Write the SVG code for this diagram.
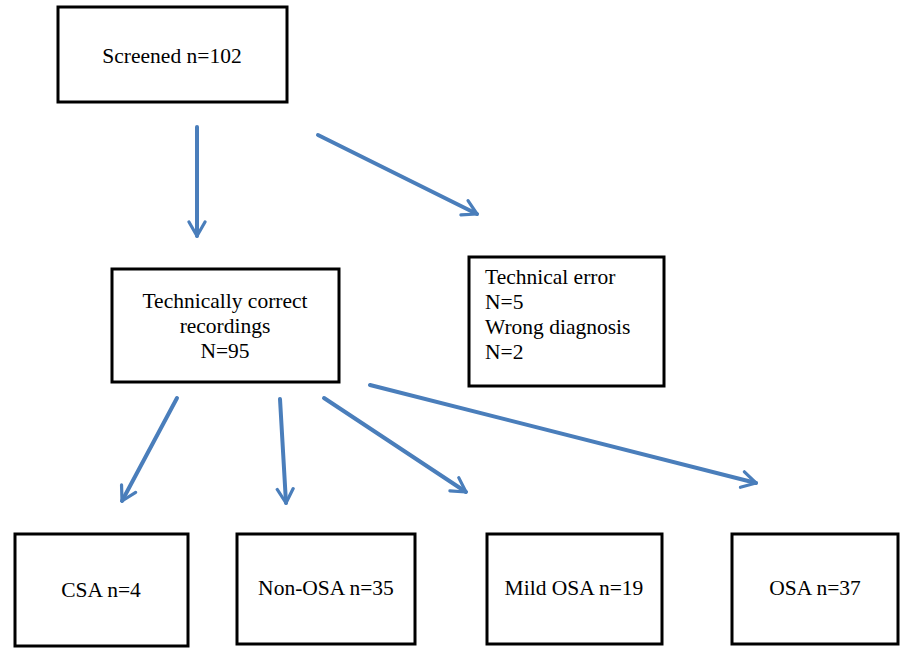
<svg xmlns="http://www.w3.org/2000/svg" width="906" height="648" viewBox="0 0 906 648">
<style>
.box{fill:#fff;stroke:#000;stroke-width:3}
.t{font-family:"Liberation Serif","Times New Roman",serif;font-size:21.5px;fill:#000}
.c{text-anchor:middle}
.arr{stroke:#4a7ebb;stroke-width:4;fill:none;stroke-linecap:round;marker-end:url(#ah)}
</style>
<defs>
<marker id="ah" viewBox="0 0 10 10" refX="8" refY="5" markerWidth="5" markerHeight="5" orient="auto" markerUnits="strokeWidth">
<path d="M1,1 L8,5 L1,9" fill="none" stroke="#4a7ebb" stroke-width="1.6" stroke-linecap="round" stroke-linejoin="round"/>
</marker>
</defs>
<rect width="906" height="648" fill="#fff"/>
<g id="connectors">
<line class="arr" x1="197" y1="127" x2="197" y2="236"/>
<line class="arr" x1="318" y1="135" x2="477" y2="214"/>
<line class="arr" x1="177" y1="398" x2="122" y2="501"/>
<line class="arr" x1="280" y1="399" x2="286" y2="503"/>
<line class="arr" x1="324" y1="398" x2="466" y2="492"/>
<line class="arr" x1="370" y1="385" x2="756" y2="483"/>
</g>
<g id="screened">
<rect class="box" x="58" y="7" width="229" height="95"/>
<text class="t c" x="172" y="63">Screened n=102</text>
</g>
<g id="correct">
<rect class="box" x="112" y="269" width="227" height="113"/>
<text class="t c" x="225" y="308">Technically correct</text>
<text class="t c" x="225" y="333">recordings</text>
<text class="t c" x="225" y="358">N=95</text>
</g>
<g id="excluded">
<rect class="box" x="469" y="257" width="195" height="129"/>
<text class="t" x="485" y="284">Technical error</text>
<text class="t" x="485" y="309">N=5</text>
<text class="t" x="485" y="334">Wrong diagnosis</text>
<text class="t" x="485" y="359">N=2</text>
</g>
<g id="csa">
<rect class="box" x="15" y="534" width="173" height="112"/>
<text class="t c" x="101" y="597">CSA n=4</text>
</g>
<g id="nonosa">
<rect class="box" x="237" y="534" width="178" height="110"/>
<text class="t c" x="326" y="595">Non-OSA n=35</text>
</g>
<g id="mildosa">
<rect class="box" x="487" y="534" width="175" height="110"/>
<text class="t c" x="574" y="595">Mild OSA n=19</text>
</g>
<g id="osa">
<rect class="box" x="732" y="534" width="166" height="110"/>
<text class="t c" x="815" y="595">OSA n=37</text>
</g>
</svg>
